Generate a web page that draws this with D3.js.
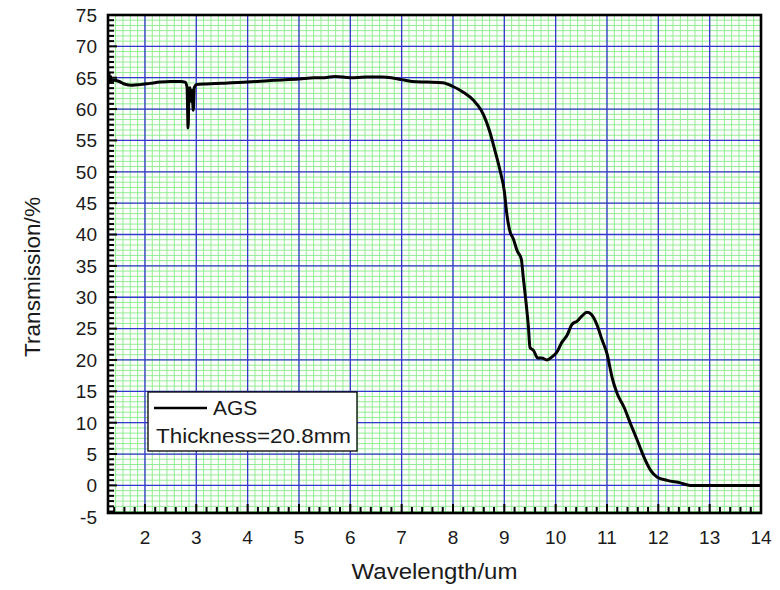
<!DOCTYPE html>
<html>
<head>
<meta charset="utf-8">
<script src="https://cdn.jsdelivr.net/npm/d3@7"></script>
<style>
  body { margin: 0; background: #fff; }
  svg { display: block; font-family: "Liberation Sans", Arial, sans-serif; }
</style>
</head>
<body>
<svg width="780" height="590"></svg>
<script>

// Data (wavelength in um, transmission in %).
var wavelength = [
    1.29, 1.30, 1.31, 1.33, 1.35, 1.40, 1.50, 1.60, 1.75, 1.90,
    2.10, 2.30, 2.50, 2.70, 2.78, 2.82, 2.84, 2.86, 2.88, 2.90,
    2.92, 2.94, 2.96, 3.00, 3.20, 3.50, 4.00, 4.50, 5.00, 5.30,
    5.50, 5.70, 6.00, 6.30, 6.60, 6.80, 7.00, 7.20, 7.50, 7.80,
    8.00, 8.20, 8.40, 8.55, 8.65, 8.72, 8.82, 8.92, 9.00, 9.05,
    9.10, 9.18, 9.25, 9.33, 9.37, 9.42, 9.47, 9.50, 9.57, 9.65,
    9.73, 9.83, 9.93, 10.02, 10.12, 10.22, 10.32, 10.42, 10.51, 10.61,
    10.69, 10.81, 10.90, 11.00, 11.10, 11.20, 11.33, 11.46, 11.59, 11.72,
    11.85, 11.98, 12.17, 12.43, 12.62, 13.00, 14.00
  ]
  , transmission = [
    64.6, 65.8, 64.3, 65.2, 64.5, 64.6, 64.4, 64.0, 63.8, 63.9,
    64.1, 64.3, 64.4, 64.4, 64.3, 63.5, 57.0, 63.2, 63.4, 61.2,
    63.0, 59.8, 63.4, 63.9, 64.0, 64.1, 64.3, 64.6, 64.8, 65.0,
    65.0, 65.2, 65.0, 65.1, 65.1, 65.0, 64.7, 64.4, 64.3, 64.2,
    63.6, 62.7, 61.4, 59.8, 58.0, 56.3, 53.3, 50.1, 46.9, 43.2,
    40.8, 39.2, 37.4, 36.1, 33.1, 29.4, 25.2, 22.0, 21.5, 20.3,
    20.3, 20.0, 20.5, 21.2, 22.8, 23.9, 25.7, 26.2, 27.0, 27.6,
    27.3, 25.5, 23.3, 21.0, 17.2, 14.6, 12.5, 9.8, 7.2, 4.5,
    2.4, 1.3, 0.8, 0.4, 0.0, 0.0, 0.0
  ]
  , xTicks = [2, 3, 4, 5, 6, 7, 8, 9, 10, 11, 12, 13, 14]
  , yTicks = [-5, 0, 5, 10, 15, 20, 25, 30, 35, 40, 45, 50, 55, 60, 65, 70, 75]
  , seriesName = "AGS"
  , thicknessLabel = "Thickness=20.8mm"
;

// Configuration parameters.
var margin = { left: 108, right: 19, top: 15, bottom: 77 }
  , width = 780
  , height = 590
  , innerWidth = width - margin.left - margin.right
  , innerHeight = height - margin.top - margin.bottom
  , gridGreen = "#93ec93"
  , gridBlue = "#3535cf"
  , textColor = "#1a1a1a"
;

var svg = d3.select("svg")
  , g = svg.append("g")
      .attr("transform", "translate(" + [margin.left, margin.top] + ")")
;

var xScale = d3.scaleLinear().domain([1.28, 14]).range([0, innerWidth])
  , yScale = d3.scaleLinear().domain([-4.4, 75]).range([innerHeight, 0])
;

// Minor steps: 5 per unit on x ticks, grid finer; 6 per major on y.
var xMinor = d3.range(1, 14.001, 0.2).filter(function(d) { return d >= 1.28; })
  , xGridMinor = d3.range(1, 14.001, 1 / 7).filter(function(d) { return d >= 1.28; })
  , yMinor = d3.range(-5, 75.001, 5 / 6).filter(function(d) { return d >= -4.4; })
;

// Green minor grid
g.append("g").selectAll("line")
    .data(xGridMinor)
  .enter().append("line")
    .attr("x1", function(d) { return xScale(d); })
    .attr("x2", function(d) { return xScale(d); })
    .attr("y1", 0)
    .attr("y2", innerHeight)
    .attr("stroke", gridGreen)
    .attr("stroke-width", 1);

g.append("g").selectAll("line")
    .data(yMinor)
  .enter().append("line")
    .attr("x1", 0)
    .attr("x2", innerWidth)
    .attr("y1", function(d) { return yScale(d); })
    .attr("y2", function(d) { return yScale(d); })
    .attr("stroke", gridGreen)
    .attr("stroke-width", 1);

// Blue major grid
g.append("g").selectAll("line")
    .data(xTicks)
  .enter().append("line")
    .attr("x1", function(d) { return xScale(d); })
    .attr("x2", function(d) { return xScale(d); })
    .attr("y1", 0)
    .attr("y2", innerHeight)
    .attr("stroke", gridBlue)
    .attr("stroke-width", 1.3);

g.append("g").selectAll("line")
    .data(yTicks.filter(function(d) { return d > -4.4; }))
  .enter().append("line")
    .attr("x1", 0)
    .attr("x2", innerWidth)
    .attr("y1", function(d) { return yScale(d); })
    .attr("y2", function(d) { return yScale(d); })
    .attr("stroke", gridBlue)
    .attr("stroke-width", 1.3);

// The curve
var line = d3.line()
    .x(function(d) { return xScale(d[0]); })
    .y(function(d) { return yScale(d[1]); })
    .curve(d3.curveMonotoneX);

g.append("path")
    .datum(d3.zip(wavelength, transmission))
    .attr("d", line)
    .attr("fill", "none")
    .attr("stroke", "#000")
    .attr("stroke-width", 3)
    .attr("stroke-linejoin", "round");

// Inward ticks on left and bottom axes
g.append("g").selectAll("line")
    .data(yMinor)
  .enter().append("line")
    .attr("x1", 0)
    .attr("x2", function(d) { return Math.abs(d % 5) < 1e-6 ? 9 : 6; })
    .attr("y1", function(d) { return yScale(d); })
    .attr("y2", function(d) { return yScale(d); })
    .attr("stroke", "#000")
    .attr("stroke-width", 2);

g.append("g").selectAll("line")
    .data(xMinor)
  .enter().append("line")
    .attr("x1", function(d) { return xScale(d); })
    .attr("x2", function(d) { return xScale(d); })
    .attr("y1", innerHeight)
    .attr("y2", function(d) {
        return innerHeight - (Math.abs(d - Math.round(d)) < 1e-6 ? 9 : 6);
      })
    .attr("stroke", "#000")
    .attr("stroke-width", 2);

// Frame
g.append("rect")
    .attr("width", innerWidth)
    .attr("height", innerHeight)
    .attr("fill", "none")
    .attr("stroke", "#000")
    .attr("stroke-width", 2.6);

// Tick labels
g.append("g").selectAll("text")
    .data(yTicks)
  .enter().append("text")
    .attr("x", -11)
    .attr("y", function(d) { return yScale(d); })
    .attr("dy", "0.36em")
    .attr("text-anchor", "end")
    .attr("font-size", 19)
    .attr("fill", textColor)
    .text(function(d) { return d; });

g.append("g").selectAll("text")
    .data(xTicks)
  .enter().append("text")
    .attr("x", function(d) { return xScale(d); })
    .attr("y", innerHeight + 31)
    .attr("text-anchor", "middle")
    .attr("font-size", 19)
    .attr("fill", textColor)
    .text(function(d) { return d; });

// Axis titles
svg.append("text")
    .attr("x", margin.left + innerWidth / 2)
    .attr("y", 579)
    .attr("text-anchor", "middle")
    .attr("font-size", 22)
    .attr("fill", textColor)
    .attr("textLength", 166)
    .attr("lengthAdjust", "spacingAndGlyphs")
    .text("Wavelength/um");

svg.append("text")
    .attr("transform", "translate(40,277) rotate(-90)")
    .attr("text-anchor", "middle")
    .attr("font-size", 22)
    .attr("fill", textColor)
    .attr("textLength", 160)
    .attr("lengthAdjust", "spacingAndGlyphs")
    .text("Transmission/%");

// Legend
var legendG = svg.append("g").attr("transform", "translate(148,392)");
legendG.append("rect")
    .attr("width", 209)
    .attr("height", 59)
    .attr("fill", "#fff")
    .attr("stroke", "#000")
    .attr("stroke-width", 1.3);
legendG.append("line")
    .attr("x1", 6).attr("x2", 59)
    .attr("y1", 16).attr("y2", 16)
    .attr("stroke", "#000")
    .attr("stroke-width", 2.6);
legendG.append("text")
    .attr("x", 65).attr("y", 23)
    .attr("font-size", 21)
    .attr("fill", textColor)
    .text(seriesName);
legendG.append("text")
    .attr("x", 8).attr("y", 51)
    .attr("font-size", 21)
    .attr("fill", textColor)
    .attr("textLength", 195)
    .attr("lengthAdjust", "spacingAndGlyphs")
    .text(thicknessLabel);

</script>
</body>
</html>
